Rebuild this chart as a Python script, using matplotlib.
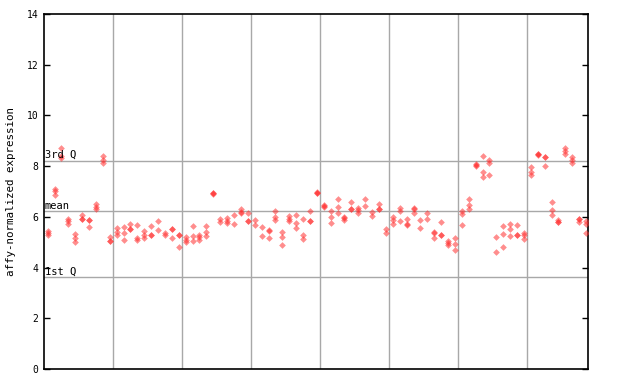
import matplotlib
matplotlib.use("Agg")
import matplotlib.pyplot as plt

# expression values per sample column (replicates)
values = [
    [5.45, 5.35, 5.3], [7.1, 7.0, 6.85], [8.7, 8.41, 8.31], [5.93, 5.85, 5.73],
    [5.34, 5.18, 4.99], [6.09, 5.91, 5.9], [5.89, 5.88, 5.6], [6.5, 6.39, 6.29],
    [8.41, 8.22, 8.12], [5.2, 5.06, 5.04],
    [5.55, 5.39, 5.3], [5.59, 5.38, 5.07], [5.7, 5.53, 5.51], [5.66, 5.17, 5.07],
    [5.43, 5.3, 5.17], [5.62, 5.3, 5.28], [5.85, 5.47], [5.38, 5.29],
    [5.53, 5.51, 5.18], [5.3, 5.28, 4.82],
    [5.2, 5.08, 4.99], [5.62, 5.26, 5.03], [5.3, 5.2, 5.08], [5.62, 5.42, 5.25],
    [6.95, 6.92, 6.89], [5.91, 5.8], [5.94, 5.85, 5.76], [6.08, 5.73],
    [6.3, 6.17, 6.15], [6.13, 5.85, 5.83],
    [5.87, 5.68], [5.59, 5.26], [5.46, 5.44, 5.18], [6.21, 5.98, 5.87],
    [5.42, 5.2, 4.87], [6.03, 5.93, 5.83], [6.09, 5.75, 5.56], [5.93, 5.29, 5.13],
    [6.21, 5.85, 5.83], [6.96, 6.94, 6.92],
    [6.47, 6.43, 6.4], [6.21, 6.0, 5.77], [6.71, 6.38, 6.16], [5.99, 5.97, 5.87],
    [6.6, 6.31, 6.29], [6.36, 6.25, 6.13], [6.71, 6.43], [6.17, 6.04],
    [6.52, 6.31, 6.29], [5.5, 5.37],
    [5.98, 5.87, 5.73], [6.36, 6.21, 5.85], [5.93, 5.73, 5.66], [6.36, 6.29, 6.13],
    [5.87, 5.56], [6.16, 5.92], [5.4, 5.38, 5.17], [5.81, 5.3, 5.28],
    [5.04, 4.97, 4.9], [5.18, 4.91, 4.71],
    [6.21, 6.12, 5.66], [6.71, 6.47, 6.31], [8.1, 8.04, 7.99], [8.41, 7.78, 7.57],
    [8.24, 8.12, 7.66], [5.22, 4.63], [5.62, 5.34, 4.82], [5.73, 5.5, 5.26],
    [5.66, 5.3, 5.28], [5.38, 5.28, 5.13],
    [7.98, 7.76, 7.66], [8.48, 8.46, 8.44], [8.37, 8.35, 8.02], [6.6, 6.26, 6.09],
    [5.87, 5.8, 5.78], [8.7, 8.6, 8.46], [8.36, 8.22, 8.12], [5.93, 5.91, 5.79],
    [5.84, 5.7, 5.38],
]
group_sizes = [10, 10, 10, 10, 10, 10, 10, 9]
q1, mean, q3 = 3.62, 6.21, 8.21
yticks = [0, 2, 4, 6, 8, 10, 12, 14]

mono = "DejaVu Sans Mono"
fig = plt.figure(figsize=(6.4, 3.84), dpi=100)
ax = fig.add_axes([0.069, 0.039, 0.85, 0.925])

xs, ys = [], []
for i, col in enumerate(values):
    for v in col:
        xs.append(i)
        ys.append(v)
ax.plot(xs, ys, linestyle="none", marker="D", markersize=3.4,
        color="#ff3030", alpha=0.55, markeredgewidth=0, zorder=3)

# group separators
pos = -0.5
for n in group_sizes[:-1]:
    pos += n
    ax.axvline(pos, color="#a8a8a8", linewidth=1, zorder=1)

for val, lab in [(q3, "3rd Q"), (mean, "mean"), (q1, "1st Q")]:
    ax.axhline(val, color="#a8a8a8", linewidth=1, zorder=1)
    ax.text(-0.45, val + 0.02, lab, fontsize=7.5, family=mono,
            va="bottom", ha="left", zorder=4)

ax.set_xlim(-0.5, len(values) - 0.7)
ax.set_ylim(0, 14)
ax.set_xticks([])
ax.set_yticks(yticks)
ax.set_yticklabels([str(t) for t in yticks], family=mono, fontsize=7)
ax.tick_params(axis="y", direction="in", length=4, width=1,
               right=True, left=True, pad=4)
for s in ax.spines.values():
    s.set_linewidth(1.2)
ax.set_ylabel("affy-normalized expression", family=mono, fontsize=7.8,
              labelpad=8)

fig.savefig("out.png", dpi=100)
